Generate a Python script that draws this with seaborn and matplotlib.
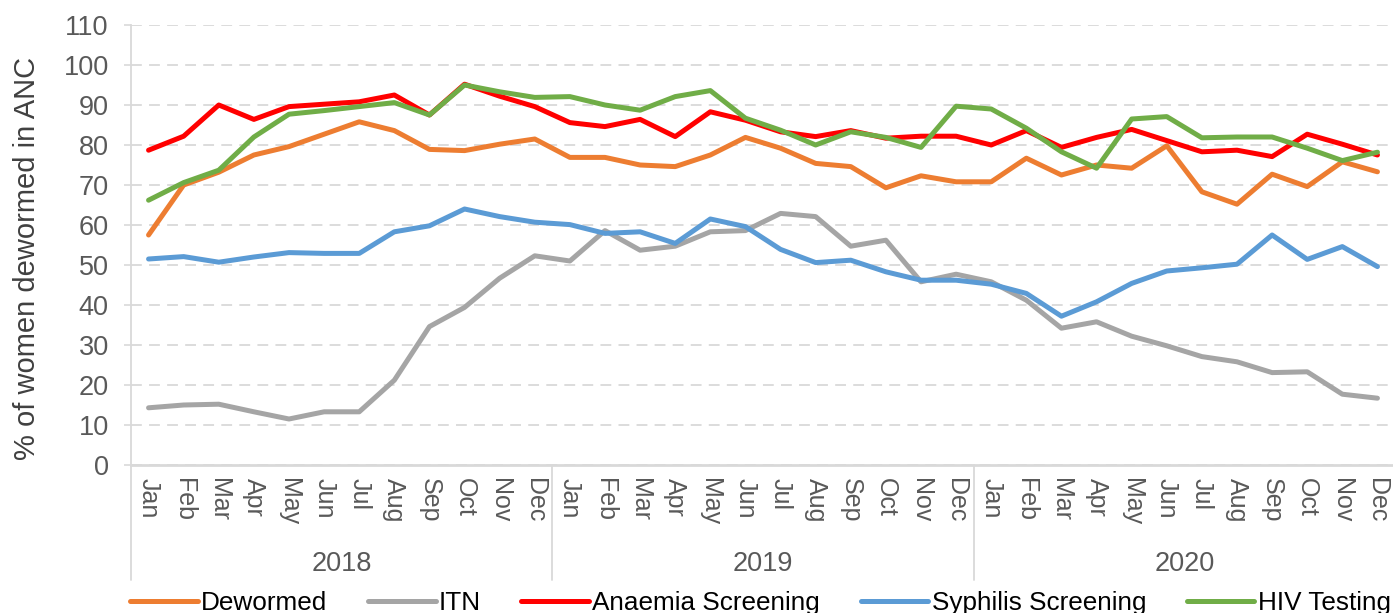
import numpy as np
import pandas as pd
import seaborn as sns
import matplotlib.pyplot as plt
from matplotlib.transforms import blended_transform_factory

months = ['Jan', 'Feb', 'Mar', 'Apr', 'May', 'Jun',
          'Jul', 'Aug', 'Sep', 'Oct', 'Nov', 'Dec']
years = ['2018', '2019', '2020']

dewormed = [57.5, 70.0, 73.2, 77.5, 79.6, 82.7, 85.8, 83.6, 78.9, 78.6, 80.2, 81.5,
            76.9, 76.9, 75.0, 74.6, 77.5, 81.9, 79.2, 75.4, 74.6, 69.3, 72.3, 70.8,
            70.8, 76.7, 72.5, 75.0, 74.2, 79.8, 68.3, 65.2, 72.7, 69.6, 75.8, 73.3]
itn = [14.3, 15.0, 15.2, 13.3, 11.5, 13.3, 13.3, 21.2, 34.6, 39.4, 46.7, 52.3,
       51.0, 58.6, 53.7, 54.7, 58.3, 58.6, 62.9, 62.1, 54.7, 56.2, 45.8, 47.7,
       45.8, 41.2, 34.2, 35.8, 32.2, 29.8, 27.1, 25.8, 23.1, 23.3, 17.7, 16.7]
anaemia = [78.7, 82.2, 90.0, 86.4, 89.6, 90.2, 90.8, 92.5, 87.5, 95.2, 92.2, 89.6,
           85.6, 84.6, 86.4, 82.1, 88.3, 86.2, 83.3, 82.1, 83.6, 81.7, 82.2, 82.2,
           80.0, 83.6, 79.4, 81.9, 83.9, 81.1, 78.3, 78.7, 77.1, 82.7, 80.2, 77.5]
syphilis = [51.5, 52.1, 50.7, 52.0, 53.1, 52.9, 52.9, 58.3, 59.8, 64.0, 62.1, 60.7,
            60.1, 57.9, 58.3, 55.4, 61.5, 59.6, 53.9, 50.6, 51.2, 48.3, 46.2, 46.2,
            45.2, 42.9, 37.2, 40.8, 45.4, 48.5, 49.3, 50.2, 57.5, 51.4, 54.6, 49.6]
hiv = [66.2, 70.6, 73.7, 82.0, 87.7, 88.6, 89.6, 90.6, 87.5, 95.0, 93.3, 91.9,
       92.1, 90.0, 88.7, 92.1, 93.6, 86.7, 83.7, 80.0, 83.3, 81.9, 79.4, 89.7,
       89.0, 84.2, 78.3, 74.2, 86.5, 87.1, 81.8, 82.0, 82.0, 79.2, 76.1, 78.2]

series = {
    'Dewormed': dewormed,
    'ITN': itn,
    'Anaemia Screening': anaemia,
    'Syphilis Screening': syphilis,
    'HIV Testing': hiv,
}
colors = ['#ED7D31', '#A5A5A5', '#FF0000', '#5B9BD5', '#70AD47']

labels = [m for _ in years for m in months]
n = len(labels)
df = pd.DataFrame([
    {'pos': i, 'value': v, 'series': name}
    for name, vals in series.items() for i, v in enumerate(vals)
])

sns.set_style('white')
plt.rcParams['font.family'] = ['Liberation Sans', 'DejaVu Sans']

W, H = 1393, 613
fig = plt.figure(figsize=(W / 100, H / 100), dpi=100)
ax = fig.add_axes([131 / W, 1 - 465 / H, (1395 - 131) / W, 440 / H])

sns.lineplot(data=df, x='pos', y='value', hue='series', palette=colors,
             linewidth=3.6, ax=ax, legend=True)

grid_col = '#d9d9d9'
text_col = '#595959'

ax.set_xlim(-0.5, n - 0.5)
ax.set_ylim(0, 110)
ax.set_yticks(np.arange(0, 111, 10))
ax.yaxis.grid(True, color=grid_col, linestyle=(0, (6, 4)), linewidth=1.3)
ax.set_axisbelow(True)
ax.tick_params(axis='y', labelsize=19.5, labelcolor=text_col, color=grid_col,
               length=5, width=1.2, pad=11, left=True)
ax.set_xticks(range(n))
ax.set_xticklabels(labels, rotation=270, fontsize=18, color=text_col, va='top')
ax.tick_params(axis='x', length=0, pad=9)
ax.set_xlabel('')
ax.set_ylabel('% of women dewormed in ANC', fontsize=21, color='#404040')
ax.yaxis.set_label_coords(-0.071, 0.47)

for s in ['top', 'right']:
    ax.spines[s].set_visible(False)
ax.spines['left'].set_color(grid_col)
ax.spines['left'].set_linewidth(1.3)
ax.spines['bottom'].set_color(grid_col)
ax.spines['bottom'].set_linewidth(2.0)

# year separators and year labels under the month labels
trans = blended_transform_factory(ax.transData, ax.transAxes)
for xs in [-0.5, 11.5, 23.5]:
    ax.plot([xs, xs], [0, -0.262], transform=trans, color=grid_col,
            linewidth=1.3, clip_on=False)
for k, yr in enumerate(years):
    ax.text(12 * k + 5.5, -0.225, yr, transform=trans, ha='center', va='center',
            fontsize=19.5, color=text_col)

handles, names = ax.get_legend_handles_labels()
ax.legend_.remove()
leg = fig.legend(handles, names, loc='center left', bbox_to_anchor=(130 / W, 1 - 603 / H),
                 ncol=5, frameon=False, fontsize=18.8, handlelength=2.6, handletextpad=0.12,
                 columnspacing=1.55, borderpad=0, borderaxespad=0)
for t in leg.get_texts():
    t.set_color('black')

fig.savefig('out.png', dpi=100)
